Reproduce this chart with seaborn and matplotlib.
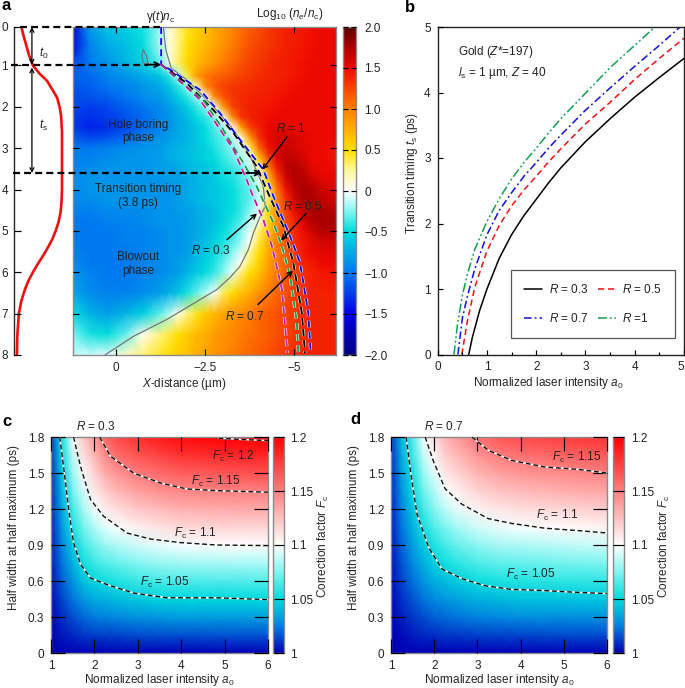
import numpy as np
import matplotlib
matplotlib.use("Agg")
import matplotlib.pyplot as plt
from matplotlib.colors import LinearSegmentedColormap
from matplotlib.transforms import blended_transform_factory
from matplotlib.ticker import MultipleLocator
import seaborn as sns

W, H = 685, 688

# --- panel a: density map, rows are time (ps), columns X-distance (um)
a_x = [1.25, .75, .25, -.25, -.75, -1.25, -1.5, -1.75, -2, -2.25, -2.5, -2.75, -3, -3.25, -3.5,
       -3.75, -4, -4.25, -4.5, -4.75, -5, -5.25, -5.5, -5.75, -6.25]
a_t = [0, .5, .95, 1.25, 1.5, 1.75, 2, 2.25, 2.5, 2.75, 3, 3.25, 3.5, 3.75, 4, 4.25, 4.5, 4.75,
       5, 5.25, 5.5, 5.75, 6, 6.5, 7, 7.5, 8]
a_density = [
    [-1.6, -.8, -.6, -.55, -.45, -.2, .1, .3, .45, .55, .65, .75, .85, .95, 1.05, 1.15, 1.2, 1.3, 1.35, 1.4, 1.42, 1.45, 1.47, 1.5, 1.5],
    [-1.5, -.95, -.75, -.65, -.5, -.15, .1, .3, .5, .6, .7, .8, .9, 1.0, 1.1, 1.2, 1.25, 1.3, 1.35, 1.4, 1.42, 1.45, 1.47, 1.5, 1.5],
    [-1.2, -1.0, -.85, -.7, -.55, -.3, .1, .35, .55, .7, .8, .9, 1.0, 1.1, 1.2, 1.25, 1.3, 1.35, 1.4, 1.42, 1.45, 1.47, 1.5, 1.5, 1.5],
    [-1.1, -1.05, -.95, -.85, -.75, -.6, -.4, -.15, .4, .85, 1.0, 1.1, 1.15, 1.2, 1.25, 1.3, 1.35, 1.38, 1.4, 1.42, 1.45, 1.47, 1.5, 1.5, 1.5],
    [-1.15, -1.1, -1.0, -.95, -.85, -.75, -.6, -.4, -.2, .25, .95, 1.15, 1.25, 1.3, 1.32, 1.35, 1.38, 1.4, 1.42, 1.45, 1.47, 1.5, 1.5, 1.5, 1.5],
    [-1.2, -1.15, -1.1, -1.0, -.9, -.8, -.7, -.55, -.4, -.2, .0, .95, 1.2, 1.3, 1.35, 1.38, 1.4, 1.42, 1.45, 1.47, 1.5, 1.5, 1.5, 1.5, 1.5],
    [-1.2, -1.25, -1.2, -1.1, -1.0, -.9, -.8, -.7, -.55, -.4, -.25, -.02, .85, 1.25, 1.35, 1.4, 1.42, 1.45, 1.47, 1.5, 1.5, 1.5, 1.5, 1.5, 1.5],
    [-1.25, -1.3, -1.25, -1.15, -1.05, -.9, -.85, -.75, -.65, -.5, -.4, -.25, 0, .9, 1.3, 1.4, 1.45, 1.48, 1.5, 1.52, 1.5, 1.5, 1.5, 1.5, 1.5],
    [-1.25, -1.35, -1.3, -1.2, -1.05, -.95, -.85, -.75, -.7, -.6, -.5, -.35, -.2, 0, .8, 1.25, 1.4, 1.5, 1.55, 1.55, 1.52, 1.5, 1.5, 1.5, 1.5],
    [-1.1, -1.2, -1.15, -1.05, -.95, -.85, -.8, -.75, -.7, -.6, -.5, -.4, -.3, -.15, .1, .85, 1.3, 1.5, 1.58, 1.6, 1.58, 1.55, 1.5, 1.5, 1.5],
    [-1.0, -1.0, -.95, -.9, -.85, -.8, -.75, -.7, -.65, -.6, -.55, -.45, -.35, -.25, -.1, .35, 1.05, 1.45, 1.6, 1.65, 1.6, 1.55, 1.5, 1.5, 1.45],
    [-.95, -.95, -.9, -.85, -.85, -.8, -.75, -.7, -.65, -.6, -.55, -.5, -.4, -.3, -.2, -.05, .6, 1.2, 1.55, 1.68, 1.68, 1.6, 1.5, 1.5, 1.45],
    [-.95, -.9, -.85, -.85, -.85, -.8, -.8, -.75, -.7, -.65, -.6, -.55, -.45, -.4, -.3, -.15, .15, .9, 1.4, 1.68, 1.72, 1.68, 1.55, 1.5, 1.5],
    [-.9, -.85, -.85, -.85, -.85, -.85, -.8, -.8, -.75, -.7, -.65, -.6, -.5, -.45, -.35, -.25, -.05, .6, 1.2, 1.6, 1.72, 1.72, 1.65, 1.55, 1.52],
    [-.9, -.85, -.85, -.85, -.85, -.85, -.85, -.8, -.75, -.7, -.65, -.6, -.55, -.5, -.4, -.3, -.1, .35, 1.0, 1.45, 1.68, 1.75, 1.72, 1.65, 1.55],
    [-.9, -.9, -.85, -.85, -.85, -.85, -.85, -.8, -.75, -.7, -.65, -.6, -.55, -.5, -.4, -.3, -.1, .3, .95, 1.3, 1.6, 1.75, 1.75, 1.68, 1.6],
    [-.95, -.95, -.9, -.9, -.9, -.85, -.85, -.8, -.8, -.75, -.7, -.65, -.55, -.5, -.4, -.25, -.05, .5, .95, 1.25, 1.5, 1.68, 1.75, 1.75, 1.7],
    [-1.0, -1.0, -.95, -.95, -.9, -.85, -.85, -.85, -.8, -.75, -.7, -.65, -.55, -.45, -.35, -.15, .05, .5, .9, 1.2, 1.4, 1.6, 1.72, 1.78, 1.75],
    [-1.0, -1.0, -1.0, -.95, -.95, -.9, -.85, -.85, -.8, -.75, -.7, -.6, -.5, -.4, -.25, -.05, .3, .6, .95, 1.2, 1.35, 1.5, 1.62, 1.72, 1.7],
    [-1.0, -1.0, -1.0, -.95, -.95, -.9, -.85, -.85, -.8, -.75, -.65, -.55, -.45, -.35, -.2, 0, .4, .7, 1.0, 1.2, 1.35, 1.45, 1.55, 1.6, 1.62],
    [-.95, -1.0, -1.0, -1.0, -.95, -.9, -.85, -.85, -.8, -.7, -.6, -.5, -.4, -.25, -.1, .25, .5, .75, 1.0, 1.15, 1.3, 1.45, 1.5, 1.55, 1.55],
    [-.9, -1.0, -1.0, -1.0, -.95, -.9, -.85, -.8, -.75, -.65, -.55, -.45, -.3, -.15, 0, .35, .55, .8, 1.0, 1.15, 1.3, 1.4, 1.45, 1.5, 1.5],
    [-.85, -.95, -1.0, -1.0, -.95, -.9, -.85, -.8, -.7, -.6, -.5, -.4, -.25, -.05, .3, .5, .65, .85, 1.0, 1.15, 1.25, 1.35, 1.4, 1.45, 1.45],
    [-.75, -.9, -.95, -.95, -.9, -.8, -.7, -.6, -.45, -.3, -.15, -.02, .35, .5, .65, .75, .9, 1.0, 1.1, 1.2, 1.3, 1.35, 1.4, 1.4, 1.4],
    [-.5, -.7, -.8, -.7, -.55, -.3, -.15, .05, .3, .45, .6, .7, .8, .9, .95, 1.0, 1.1, 1.15, 1.2, 1.25, 1.3, 1.35, 1.4, 1.4, 1.4],
    [-.25, -.45, -.5, -.3, .05, .3, .4, .5, .6, .7, .75, .85, .9, .95, 1.0, 1.05, 1.1, 1.15, 1.2, 1.25, 1.3, 1.35, 1.4, 1.4, 1.4],
    [-.1, -.1, -.05, .15, .3, .45, .5, .6, .65, .75, .8, .9, .95, 1.0, 1.05, 1.1, 1.15, 1.2, 1.25, 1.3, 1.35, 1.4, 1.4, 1.4, 1.4],
]

# laser profile on the left of panel a
pulse_t = [0, .25, .5, .75, 1, 1.2, 1.37, 1.6, 1.78, 2, 2.2, 2.4, 2.6, 3, 4, 4.3, 4.55, 4.78, 5, 5.2, 5.4, 5.6, 5.8, 6, 6.2, 6.4, 6.7, 7, 7.5, 8]
pulse_i = [.15, .2, .26, .32, .40, .54, .69, .81, .90, .95, .98, .99, 1, 1, 1, .99, .97, .93, .87, .8, .71, .61, .5, .40, .31, .24, .16, .11, .08, .07]

# R curves and critical surface in panel a
blue_x = [-1.26, -1.26, -1.51, -2.35, -2.91, -3.47, -4.13, -4.41, -4.88, -5.16, -5.39, -5.46]
blue_t = [.07, .98, 1.10, 1.59, 2.15, 2.79, 3.52, 4.16, 5.13, 5.77, 6.98, 7.95]
black_x = [-1.26, -1.98, -2.72, -3.29, -3.94, -4.22, -4.69, -4.97, -5.21, -5.30]
black_t = [.98, 1.43, 2.07, 2.63, 3.44, 4.00, 4.89, 5.77, 6.98, 7.95]
green_x = [-1.26, -1.84, -2.44, -3.0, -3.57, -3.94, -4.41, -4.65, -4.88, -5.07, -5.11]
green_t = [.98, 1.43, 1.83, 2.55, 3.36, 3.92, 4.80, 5.37, 6.09, 7.21, 7.95]
magenta_x = [-1.26, -1.70, -2.35, -2.82, -3.29, -3.66, -3.80, -4.13, -4.37, -4.65, -4.79, -4.80]
magenta_t = [.98, 1.30, 1.83, 2.43, 3.03, 3.76, 4.08, 4.73, 5.37, 6.41, 7.79, 7.95]
crit_x = [-1.32, -1.39, -1.54, -1.98, -2.72, -3.29, -3.76, -4.13, -4.18, -4.04, -3.85, -3.71, -3.47, -3.19, -2.82, -2.12, -1.42, -.48, .32]
crit_t = [.07, .62, 1.06, 1.35, 1.99, 2.55, 3.20, 3.92, 4.41, 4.65, 5.05, 5.45, 5.86, 6.13, 6.42, 6.78, 7.14, 7.55, 8.0]
island_x = [-.76, -.72, -.76, -.90, -.85, -.76]
island_t = [.62, .77, .93, .98, .77, .62]

# --- panel b: transition timing curves
r03_a = [.63, .7, .85, 1, 1.25, 1.5, 1.75, 2, 2.25, 2.5, 3, 3.5, 4, 4.5, 5]
r03_t = [0, .25, .67, 1.0, 1.47, 1.83, 2.12, 2.37, 2.62, 2.85, 3.25, 3.6, 3.93, 4.23, 4.52]
r05_a = [.49, .6, .75, 1, 1.25, 1.5, 1.75, 2, 2.25, 2.5, 3, 3.5, 4, 4.5, 5]
r05_t = [0, .5, 1.02, 1.58, 1.97, 2.27, 2.51, 2.72, 2.94, 3.14, 3.52, 3.85, 4.2, 4.52, 4.83]
r07_a = [.41, .5, .6, .75, 1, 1.25, 1.5, 1.75, 2, 2.25, 2.5, 3, 3.5, 4, 4.5, 4.92]
r07_t = [0, .55, .88, 1.3, 1.83, 2.2, 2.47, 2.72, 2.93, 3.15, 3.35, 3.73, 4.07, 4.4, 4.72, 5]
r10_a = [.33, .4, .5, .6, .75, 1, 1.25, 1.5, 1.75, 2, 2.25, 2.5, 3, 3.5, 4, 4.41]
r10_t = [0, .45, .9, 1.22, 1.6, 2.03, 2.38, 2.68, 2.93, 3.15, 3.38, 3.6, 3.99, 4.38, 4.72, 5]

# --- panels c, d: correction factor, rows are HWHM, columns a0
fc_a0 = [1, 1.25, 1.5, 1.75, 2, 2.25, 2.5, 3, 3.5, 4, 5, 6]
fc_hw = [0, .15, .3, .45, .6, .75, .9, 1.05, 1.2, 1.35, 1.5, 1.65, 1.8]
fc_r03 = [
    [1, 1, 1, 1, 1, 1, 1, 1, 1, 1, 1, 1],
    [1.001, 1.005, 1.008, 1.011, 1.012, 1.013, 1.014, 1.015, 1.016, 1.016, 1.017, 1.017],
    [1.002, 1.009, 1.015, 1.021, 1.025, 1.026, 1.028, 1.03, 1.032, 1.033, 1.033, 1.034],
    [1.003, 1.014, 1.023, 1.032, 1.037, 1.039, 1.042, 1.045, 1.048, 1.049, 1.049, 1.05],
    [1.004, 1.018, 1.031, 1.043, 1.049, 1.053, 1.056, 1.061, 1.064, 1.065, 1.066, 1.067],
    [1.005, 1.023, 1.039, 1.053, 1.061, 1.067, 1.07, 1.076, 1.08, 1.082, 1.083, 1.083],
    [1.006, 1.027, 1.046, 1.063, 1.073, 1.08, 1.085, 1.091, 1.095, 1.098, 1.1, 1.1],
    [1.007, 1.032, 1.055, 1.073, 1.085, 1.094, 1.099, 1.107, 1.111, 1.115, 1.117, 1.117],
    [1.008, 1.036, 1.063, 1.083, 1.097, 1.107, 1.113, 1.122, 1.127, 1.131, 1.133, 1.134],
    [1.009, 1.041, 1.072, 1.092, 1.108, 1.12, 1.128, 1.137, 1.143, 1.147, 1.15, 1.15],
    [1.01, 1.045, 1.08, 1.102, 1.118, 1.133, 1.142, 1.152, 1.158, 1.163, 1.167, 1.168],
    [1.011, 1.05, 1.089, 1.112, 1.129, 1.146, 1.157, 1.167, 1.174, 1.18, 1.184, 1.186],
    [1.012, 1.054, 1.097, 1.122, 1.14, 1.159, 1.171, 1.182, 1.19, 1.196, 1.201, 1.203],
]
fc_r07 = [
    [1, 1, 1, 1, 1, 1, 1, 1, 1, 1, 1, 1],
    [1, 1.003, 1.006, 1.008, 1.009, 1.011, 1.011, 1.013, 1.014, 1.014, 1.015, 1.015],
    [1.001, 1.007, 1.011, 1.015, 1.019, 1.021, 1.023, 1.026, 1.028, 1.029, 1.029, 1.03],
    [1.002, 1.01, 1.017, 1.023, 1.028, 1.032, 1.034, 1.039, 1.041, 1.043, 1.044, 1.045],
    [1.003, 1.014, 1.022, 1.031, 1.038, 1.042, 1.046, 1.052, 1.055, 1.057, 1.059, 1.06],
    [1.004, 1.017, 1.028, 1.038, 1.047, 1.053, 1.058, 1.065, 1.069, 1.07, 1.073, 1.075],
    [1.005, 1.02, 1.033, 1.046, 1.056, 1.064, 1.07, 1.078, 1.083, 1.084, 1.087, 1.09],
    [1.006, 1.024, 1.039, 1.054, 1.066, 1.075, 1.082, 1.091, 1.096, 1.099, 1.102, 1.105],
    [1.007, 1.027, 1.044, 1.063, 1.076, 1.087, 1.094, 1.104, 1.11, 1.113, 1.117, 1.12],
    [1.008, 1.031, 1.05, 1.072, 1.085, 1.098, 1.105, 1.117, 1.124, 1.127, 1.132, 1.135],
    [1.009, 1.034, 1.055, 1.08, 1.094, 1.109, 1.116, 1.129, 1.137, 1.142, 1.146, 1.15],
    [1.01, 1.038, 1.061, 1.089, 1.104, 1.119, 1.127, 1.142, 1.151, 1.156, 1.161, 1.165],
    [1.011, 1.041, 1.066, 1.097, 1.113, 1.13, 1.139, 1.154, 1.165, 1.171, 1.176, 1.18],
]

# contour lines of panels c and d
c105_a = [1.2, 1.29, 1.41, 1.52, 1.68, 1.91, 2.29, 2.9, 3.67, 4.82, 6]
c105_h = [1.8, 1.55, 1.19, .92, .74, .625, .57, .50, .46, .46, .445]
c110_a = [1.52, 1.68, 1.91, 2.21, 2.75, 3.29, 3.98, 4.82, 6]
c110_h = [1.8, 1.555, 1.28, 1.14, 1.0, .95, .92, .90, .895]
c115_a = [2.12, 2.37, 2.9, 3.52, 4.13, 4.82, 6]
c115_h = [1.8, 1.64, 1.5, 1.417, 1.367, 1.353, 1.34]
c120_a = [4.86, 5.36, 6]
c120_h = [1.79, 1.78, 1.77]
d105_a = [1.35, 1.45, 1.6, 1.87, 2.18, 2.64, 3.18, 3.79, 4.56, 5.33, 6]
d105_h = [1.8, 1.52, 1.16, .88, .70, .62, .56, .53, .52, .505, .495]
d110_a = [1.79, 1.98, 2.25, 2.64, 3.25, 3.79, 4.56, 5.33, 6]
d110_h = [1.8, 1.6, 1.37, 1.24, 1.12, 1.08, 1.04, 1.02, 1.0]
d115_a = [2.87, 3.25, 3.79, 4.56, 5.33, 6]
d115_h = [1.8, 1.69, 1.605, 1.55, 1.53, 1.5]

density_ticks = [-2, -1.5, -1, -.5, 0, .5, 1, 1.5, 2]
density_labels = ['\u22122.0', '\u22121.5', '\u22121.0', '\u22120.5', '0', '0.5', '1.0', '1.5', '2.0']
fc_ticks = [1, 1.05, 1.1, 1.15, 1.2]
fc_labels = ['1', '1.05', '1.1', '1.15', '1.2']
hw_ticks = [0, .3, .6, .9, 1.2, 1.5, 1.8]
hw_labels = ['0', '0.3', '0.6', '0.9', '1.2', '1.5', '1.8']

sns.set_theme(style='ticks')
FS = 8.5
plt.rcParams['font.family'] = ['Liberation Sans', 'DejaVu Sans']
plt.rcParams['mathtext.fontset'] = 'custom'
plt.rcParams['mathtext.rm'] = 'Liberation Sans'
plt.rcParams['mathtext.it'] = 'Liberation Sans:italic'
plt.rcParams['mathtext.bf'] = 'Liberation Sans:bold'
plt.rcParams['font.size'] = FS
plt.rcParams['text.color'] = '#222222'
plt.rcParams['xtick.labelsize'] = FS
plt.rcParams['ytick.labelsize'] = FS
plt.rcParams['xtick.color'] = '#222222'
plt.rcParams['ytick.color'] = '#222222'
plt.rcParams['axes.axisbelow'] = False  # ticks have to stay above the maps
GREY = '#8a8a8a'
TICK_W = .85

density_cmap = LinearSegmentedColormap.from_list('density', [
    (0, '#00007f'), (.125, '#0000e6'), (.25, '#0078f0'), (.375, '#00dcdc'), (.4375, '#80f5f0'),
    (.5, '#ffffff'), (.5625, '#fff7a0'), (.625, '#ffe000'), (.75, '#ff8000'), (.875, '#f00a00'),
    (.9375, '#b00000'), (1, '#5a0000')])
fc_cmap = LinearSegmentedColormap.from_list('fc', [
    (0, '#0000b4'), (.125, '#0080e0'), (.25, '#00dcdc'), (.375, '#80f5f0'), (.5, '#ffffff'), (1, '#ff0000')])


def px_axes(left, top, right, bottom):
    return fig.add_axes([left / W, 1 - bottom / H, (right - left) / W, (bottom - top) / H])


def grey_frame(ax):
    for s in ax.spines.values():
        s.set_visible(True)
        s.set_color(GREY)
        s.set_linewidth(1)


def dash_pattern(lw):
    # same dash length on paper, whatever the line width
    return (0, (5.0 / lw, 3.0 / lw))


def dashed_curve(ax, x, y, color, lw=1.4, under=2.2):
    sns.lineplot(x=x, y=y, ax=ax, sort=False, estimator=None, color='white', lw=under,
                 linestyle=dash_pattern(under), zorder=4)
    sns.lineplot(x=x, y=y, ax=ax, sort=False, estimator=None, color=color, lw=lw,
                 linestyle=dash_pattern(lw), zorder=5)


def contour_curve(ax, x, y):
    sns.lineplot(x=x, y=y, ax=ax, sort=False, estimator=None, color='white', lw=1.1, zorder=4)
    sns.lineplot(x=x, y=y, ax=ax, sort=False, estimator=None, color='#111111', lw=1.0,
                 linestyle=(0, (3.5, 2)), zorder=5)


fig = plt.figure(figsize=(W / 100, H / 100), dpi=100)

# panel a, profile
ax_p = px_axes(13.5, 27, 73, 355)
sns.lineplot(x=pulse_i, y=pulse_t, ax=ax_p, sort=False, estimator=None, color='#f01010', lw=1.9)
ax_p.set_xlim(0, 1.227)
ax_p.set_ylim(8, .07)
ax_p.patch.set_alpha(0)
for s in ['top', 'right', 'bottom']:
    ax_p.spines[s].set_visible(False)
ax_p.spines['left'].set_linewidth(1)
ax_p.set_xticks([])
ax_p.set_yticks([.07, 1, 2, 3, 4, 5, 6, 7, 8])
ax_p.set_yticklabels(['0', '1', '2', '3', '4', '5', '6', '7', '8'])
ax_p.tick_params(axis='y', direction='in', length=5, width=TICK_W, color='black', pad=4)
ax_p.set_xlabel('')
ax_p.set_ylabel('')
ax_p.annotate('', xy=(.38, .07), xytext=(.38, .98),
              arrowprops=dict(arrowstyle='<->', color='black', lw=.9, mutation_scale=7, shrinkA=0, shrinkB=0))
ax_p.annotate('', xy=(.38, 1.05), xytext=(.38, 3.6),
              arrowprops=dict(arrowstyle='<->', color='black', lw=.9, mutation_scale=7, shrinkA=0, shrinkB=0))

# panel a, map
ax_a = px_axes(73, 27, 336, 355)
ax_a.set_zorder(3)
mesh_a = ax_a.pcolormesh(a_x, a_t, np.array(a_density), cmap=density_cmap, vmin=-2, vmax=2, shading='gouraud')
for x, y, col in [(blue_x, blue_t, '#0a10e0'), (black_x, black_t, '#000000'),
                  (green_x, green_t, '#12a050'), (magenta_x, magenta_t, '#c01fa0')]:
    dashed_curve(ax_a, x, y, col)
sns.lineplot(x=crit_x, y=crit_t, ax=ax_a, sort=False, estimator=None, color='#777777', lw=.9, zorder=3)
sns.lineplot(x=island_x, y=island_t, ax=ax_a, sort=False, estimator=None, color='#777777', lw=.9, zorder=3)
ax_a.set_xlim(1.216, -6.17)
ax_a.set_ylim(8, .07)
ax_a.set_xticks([0, -2.5, -5])
ax_a.set_xticklabels(['0', '\u22122.5', '\u22125'])
ax_a.set_yticks([1, 2, 3, 4, 5, 6, 7])
ax_a.tick_params(axis='both', direction='in', length=4.5, width=TICK_W, color='black',
                 top=True, right=True, labelleft=False, pad=5)
grey_frame(ax_a)
ax_a.set_xlabel('$\\mathit{X}$-distance (\u00b5m)', fontsize=FS)
ax_a.xaxis.set_label_coords(184 / W, 1 - 384 / H, transform=fig.transFigure)
ax_a.xaxis.label.set_va('center')
ax_a.set_ylabel('')

# dashed time markers run across the profile and the map
to_fig = blended_transform_factory(fig.transFigure, ax_a.transData)
for t_mark, x0, x1 in [(.07, 20, 160), (.98, 11, 148), (3.6, 13, 250)]:
    ax_a.plot([x0 / W, x1 / W], [t_mark, t_mark], transform=to_fig, clip_on=False, color='black', lw=1.6,
              linestyle=dash_pattern(1.6), zorder=6)
arrow_kw = dict(arrowstyle='->', color='black', lw=1.3, mutation_scale=9, shrinkA=0, shrinkB=0)
ax_a.annotate('', xy=(-1.26, .98), xytext=(-.85, .98), arrowprops=arrow_kw, zorder=7)
ax_a.annotate('', xy=(-4.08, 3.6), xytext=(-3.65, 3.6), arrowprops=arrow_kw, zorder=7)
for tip, tail in [((-4.1, 3.52), (-4.8, 2.72)), ((-4.63, 5.23), (-5.33, 4.58)),
                  ((-3.95, 4.58), (-3.11, 5.21)), ((-4.96, 5.96), (-3.98, 6.78))]:
    ax_a.annotate('', xy=tip, xytext=tail, zorder=7,
                  arrowprops=dict(arrowstyle='->', color='black', lw=1.0, mutation_scale=8, shrinkA=0, shrinkB=0))

cax_a = px_axes(342.5, 27, 356, 355)
cb_a = fig.colorbar(mesh_a, cax=cax_a)
cb_a.set_ticks(density_ticks)
cb_a.set_ticklabels(density_labels)
cax_a.tick_params(axis='y', direction='in', length=3.5, width=TICK_W, color='black', left=True, right=True, pad=6)
cb_a.outline.set_edgecolor(GREY)
cb_a.outline.set_linewidth(1)

# panel b
ax_b = px_axes(437.7, 27, 684, 354.5)
curves_b = [(r03_a, r03_t, 'black', '-', '$\\mathit{R}$ = 0.3'),
            (r05_a, r05_t, '#f01010', (0, (4, 2.5)), '$\\mathit{R}$ = 0.5'),
            (r07_a, r07_t, '#1010e0', (0, (5, 2, 1.2, 2)), '$\\mathit{R}$ = 0.7'),
            (r10_a, r10_t, '#10a050', (0, (6, 1.8, 1.2, 1.8, 1.2, 1.8)), '$\\mathit{R}$ =1')]
for x, y, col, ls, lab in curves_b:
    sns.lineplot(x=x, y=y, ax=ax_b, sort=False, estimator=None, color=col, lw=1.1, linestyle=ls, label=lab)
handles = ax_b.get_lines()
ax_b.set_xlim(0, 5)
ax_b.set_ylim(0, 5)
ax_b.xaxis.set_major_locator(MultipleLocator(1))
ax_b.xaxis.set_minor_locator(MultipleLocator(.5))
ax_b.yaxis.set_major_locator(MultipleLocator(1))
ax_b.set_xticks([0, 1, 2, 3, 4, 5])
ax_b.tick_params(axis='both', which='major', direction='in', length=3.5, width=TICK_W, color='black', pad=5)
ax_b.tick_params(axis='x', which='minor', direction='in', length=2, width=TICK_W, color='black')
ax_b.get_xticklabels()[-1].set_ha('right')
for s in ax_b.spines.values():
    s.set_visible(True)
    s.set_linewidth(1)
    s.set_color('#222222')
ax_b.set_xlabel('Normalized laser intensity $\\mathit{a}_{\\mathit{0}}$', fontsize=FS)
ax_b.xaxis.set_label_coords(548 / W, 1 - 383 / H, transform=fig.transFigure)
ax_b.xaxis.label.set_va('center')
ax_b.set_ylabel('Transition timing $\\mathit{t}_{\\mathrm{s}}$ (ps)', fontsize=FS)
ax_b.yaxis.set_label_coords(412 / W, 1 - 173 / H, transform=fig.transFigure)
ax_b.yaxis.label.set_va('center')
order = [0, 2, 1, 3]
leg = ax_b.legend([handles[i] for i in order], [curves_b[i][4] for i in order], ncol=2, loc='center',
                  bbox_to_anchor=(593 / W, 1 - 304 / H), bbox_transform=fig.transFigure, fancybox=False,
                  edgecolor='#555555', framealpha=1, fontsize=FS, handlelength=1.55, handletextpad=.55,
                  columnspacing=.8, labelspacing=1.3, borderpad=1.1)
leg.get_frame().set_linewidth(.9)

# panels c and d
for name, grid, box, cbox, curves in [
    ('c', fc_r03, (51, 437, 268, 653), (273, 437, 283.5, 653),
     [(c105_a, c105_h), (c110_a, c110_h), (c115_a, c115_h), (c120_a, c120_h)]),
    ('d', fc_r07, (391, 437, 607, 653), (613, 437, 624, 653),
     [(d105_a, d105_h), (d110_a, d110_h), (d115_a, d115_h)]),
]:
    ax = px_axes(*box)
    mesh = ax.pcolormesh(fc_a0, fc_hw, np.array(grid), cmap=fc_cmap, vmin=1, vmax=1.2, shading='gouraud')
    for x, y in curves:
        contour_curve(ax, x, y)
    ax.set_xlim(1, 6)
    ax.set_ylim(0, 1.8)
    ax.set_xticks([1, 2, 3, 4, 5, 6])
    ax.set_yticks(hw_ticks)
    ax.set_yticklabels(hw_labels)
    ax.tick_params(axis='both', direction='in', length=10, width=TICK_W, color='black', top=True, right=True, pad=5)
    grey_frame(ax)
    ax.set_xlabel('Normalized laser intensity $\\mathit{a}_{\\mathit{0}}$', fontsize=FS)
    ax.set_ylabel('Half width at half maximum (ps)', fontsize=FS)
    ax.xaxis.set_label_coords((box[0] + box[2]) / 2 / W + .0, 1 - 680 / H, transform=fig.transFigure)
    ax.xaxis.label.set_va('center')
    ax.yaxis.set_label_coords((box[0] - 37) / W, 1 - 528 / H, transform=fig.transFigure)
    ax.yaxis.label.set_va('center')

    cax = px_axes(*cbox)
    cb = fig.colorbar(mesh, cax=cax)
    cb.set_ticks(fc_ticks)
    cb.set_ticklabels(fc_labels)
    cax.tick_params(axis='y', direction='in', length=(cbox[2] - cbox[0]) * .72, width=TICK_W, color='black', pad=5)
    cb.outline.set_edgecolor(GREY)
    cb.outline.set_linewidth(1)
    cb.set_label('Correction factor $\\mathit{F}_{\\mathrm{c}}$', fontsize=FS)
    cax.yaxis.set_label_coords((cbox[2] + 40) / W, 1 - 546 / H, transform=fig.transFigure)
    cax.yaxis.label.set_va('center')

# free text, placed in figure pixels
ov = fig.add_axes([0, 0, 1, 1], zorder=10)
ov.axis('off')
ov.set_xlim(0, W)
ov.set_ylim(H, 0)
notes = [
    (161, 17, '\u03b3($\\mathit{t}$)$\\mathit{n}_{\\mathrm{c}}$'),
    (290, 14, 'Log$_{10}$ ($\\mathit{n}_{\\mathit{e}}$/$\\mathit{n}_{\\mathrm{c}}$)'),
    (44, 53, '$\\mathit{t}_{0}$'), (44, 125, '$\\mathit{t}_{\\mathrm{s}}$'),
    (138, 125, 'Hole boring'), (138, 138, 'phase'),
    (138, 189, 'Transition timing'), (138, 203, '(3.8 ps)'),
    (138, 257, 'Blowout'), (138, 271, 'phase'),
    (291, 129, '$\\mathit{R}$ = 1'), (303, 207, '$\\mathit{R}$ = 0.5'),
    (211, 251, '$\\mathit{R}$ = 0.3'), (245, 316, '$\\mathit{R}$ = 0.7'),
    (96, 426, '$\\mathit{R}$ = 0.3'), (233, 456, '$\\mathit{F}_{\\mathrm{c}}$ = 1.2'),
    (216, 481, '$\\mathit{F}_{\\mathrm{c}}$ = 1.15'), (195, 533, '$\\mathit{F}_{\\mathrm{c}}$ = 1.1'),
    (165, 582, '$\\mathit{F}_{\\mathrm{c}}$ = 1.05'),
    (444, 426, '$\\mathit{R}$ = 0.7'), (577, 457, '$\\mathit{F}_{\\mathrm{c}}$ = 1.15'),
    (557, 515, '$\\mathit{F}_{\\mathrm{c}}$ = 1.1'), (531, 574, '$\\mathit{F}_{\\mathrm{c}}$ = 1.05'),
]
for x, y, s in notes:
    ov.text(x, y, s, ha='center', va='center', fontsize=FS)
ov.text(458, 52, 'Gold ($\\mathit{Z}$*=197)', ha='left', va='center', fontsize=FS)
ov.text(458, 73, '$\\mathit{l}_{\\mathrm{s}}$ = 1 \u00b5m, $\\mathit{Z}$ = 40', ha='left', va='center', fontsize=FS)
for x, y, s in [(2, 6, 'a'), (405, 7, 'b'), (2, 422, 'c'), (350, 420, 'd')]:
    ov.text(x, y, s, ha='left', va='center', fontsize=12, fontweight='bold', color='black')

fig.savefig('out.png', dpi=100)
